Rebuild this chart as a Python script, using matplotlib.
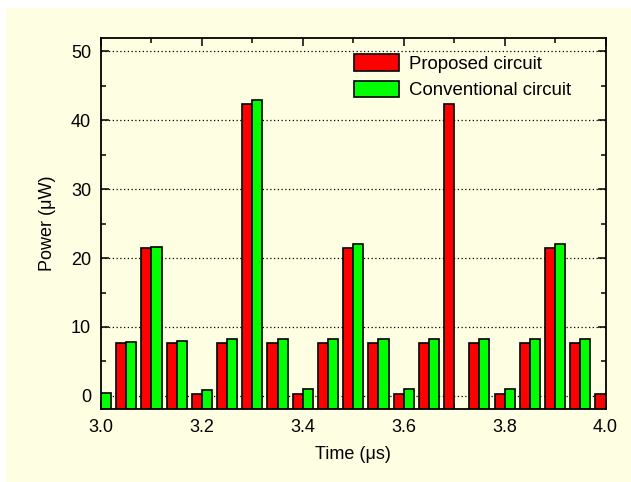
import numpy as np
import matplotlib.pyplot as plt
from matplotlib.patches import Rectangle
from matplotlib.ticker import MultipleLocator

plt.rcParams["font.family"] = ["Liberation Sans", "DejaVu Sans"]

# time of each pulse (us)
times = [3.00, 3.05, 3.10, 3.15, 3.20, 3.25, 3.30, 3.35, 3.40, 3.45, 3.50,
         3.55, 3.60, 3.65, 3.70, 3.75, 3.80, 3.85, 3.90, 3.95, 4.00]
# power (uW)
proposed = [0.3, 7.65, 21.4, 7.65, 0.3, 7.65, 42.4, 7.65, 0.3, 7.65, 21.4,
            7.65, 0.3, 7.65, 42.4, 7.65, 0.3, 7.65, 21.4, 7.65, 0.3]
conventional = [0.4, 7.85, 21.6, 8.0, 0.8, 8.2, 43.0, 8.2, 1.0, 8.2, 22.0,
                8.3, 1.0, 8.3, np.nan, 8.3, 1.0, 8.3, 22.0, 8.3, 0.4]

cream = "#fefee2"
ymin, ymax = -1.95, 52.0
bw = 0.02

fig = plt.figure(figsize=(6.31, 4.82), dpi=100, facecolor="white")
fig.patches.append(Rectangle((6 / 631, 0), 1, 1 - 8 / 482, transform=fig.transFigure,
                             facecolor=cream, edgecolor="none", zorder=-10))
ax = fig.add_axes([0.160, 0.1508, 0.7996, 0.7710])
ax.set_facecolor(cream)

t = np.array(times)
p = np.array(proposed)
c = np.array(conventional)
ax.bar(t - bw, p - ymin, bottom=ymin, width=bw, align="edge", color="#ff0000",
       edgecolor="black", lw=1.2, label="Proposed circuit", zorder=3)
ax.bar(t, c - ymin, bottom=ymin, width=bw, align="edge", color="#00ff00",
       edgecolor="black", lw=1.2, label="Conventional circuit", zorder=3)

ax.set_xlim(3.0, 4.0)
ax.set_ylim(ymin, ymax)
ax.xaxis.set_major_locator(MultipleLocator(0.2))
ax.xaxis.set_minor_locator(MultipleLocator(0.1))
ax.yaxis.set_major_locator(MultipleLocator(10))
ax.yaxis.set_minor_locator(MultipleLocator(5))
ax.set_xticks([3.0, 3.2, 3.4, 3.6, 3.8, 4.0], ["3.0", "3.2", "3.4", "3.6", "3.8", "4.0"])
ax.tick_params(which="both", direction="in", top=True, right=True, width=1.1,
               labelsize=13, colors="black")
ax.tick_params(which="major", length=6, pad=7)
ax.tick_params(which="minor", length=3.5)
ax.grid(axis="y", which="major", ls=(0, (1, 2)), color="black", lw=0.9, zorder=0)
ax.set_axisbelow(True)
for s in ax.spines.values():
    s.set_linewidth(1.3)
    s.set_zorder(5)

ax.set_xlabel("Time (\u03bcs)", fontsize=13, labelpad=7)
ax.set_ylabel("Power (\u03bcW)", fontsize=13, labelpad=11)

ax.legend(loc="upper left", bbox_to_anchor=(0.5015, 0.955), frameon=False,
          fontsize=13.4, handlelength=2.4, handleheight=1.0, labelspacing=0.4,
          handletextpad=0.55, borderpad=0, borderaxespad=0)

fig.savefig("out.png", dpi=100, facecolor=fig.get_facecolor())
